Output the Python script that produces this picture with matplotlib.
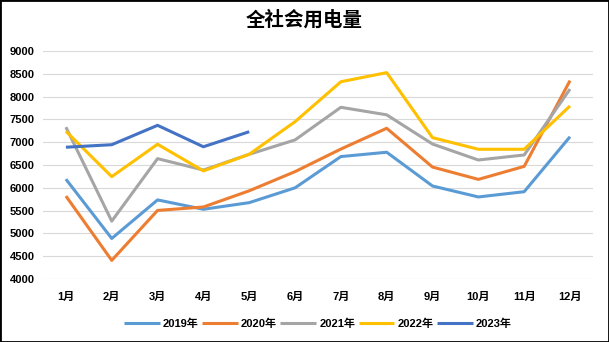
import matplotlib
matplotlib.use("Agg")
import matplotlib.pyplot as plt
from matplotlib.patches import Rectangle

plt.rcParams["font.family"] = ["Liberation Sans", "Noto Sans CJK SC", "DejaVu Sans"]
plt.rcParams["font.weight"] = "bold"

months = ["1月", "2月", "3月", "4月", "5月", "6月", "7月", "8月", "9月", "10月", "11月", "12月"]
y2019 = [6190, 4890, 5735, 5530, 5675, 6000, 6685, 6780, 6040, 5800, 5915, 7120]
y2020 = [5820, 4410, 5505, 5580, 5935, 6355, 6850, 7305, 6455, 6185, 6470, 8350]
y2021 = [7330, 5270, 6640, 6390, 6735, 7050, 7765, 7600, 6960, 6610, 6720, 8165]
y2022 = [7240, 6245, 6955, 6370, 6735, 7450, 8325, 8525, 7100, 6845, 6845, 7795]
y2023 = [6890, 6945, 7370, 6900, 7230]

series = [
    ("2019年", y2019, "#5B9BD5"),
    ("2020年", y2020, "#ED7D31"),
    ("2021年", y2021, "#A5A5A5"),
    ("2022年", y2022, "#FFC000"),
    ("2023年", y2023, "#4472C4"),
]

fig = plt.figure(figsize=(6.09, 3.42), dpi=100)
ax = fig.add_axes([0.0706, 0.184, 0.903, 0.667])

for label, values, color in series:
    ax.plot(months[:len(values)], values, color=color, lw=2.2, label=label,
            solid_capstyle="butt")

ax.set_xlim(-0.5, 11.5)
ax.set_ylim(4000, 9000)
ax.set_yticks(range(4000, 9001, 500))
ax.grid(axis="y", color="#d9d9d9", lw=0.8)
ax.set_axisbelow(True)
for s in ax.spines.values():
    s.set_visible(False)
ax.tick_params(length=0, labelsize=8)
ax.tick_params(axis="x", pad=9)
ax.tick_params(axis="y", pad=6)

fig.suptitle("全社会用电量", y=0.97, fontsize=14, fontweight="bold")
ax.legend(loc="upper center", bbox_to_anchor=(0.5, -0.13), ncol=5, frameon=False,
          fontsize=8, handlelength=3.2, handletextpad=0.3, columnspacing=0.3)

fig.patches.append(Rectangle((0, 0), 1, 1, transform=fig.transFigure, fill=False,
                             edgecolor="black", lw=2))

fig.savefig("out.png", dpi=100)
